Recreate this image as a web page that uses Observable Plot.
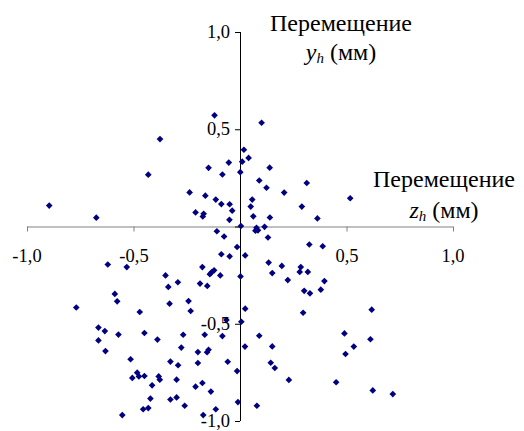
<!DOCTYPE html>
<html>
<head>
<meta charset="utf-8">
<script src="https://cdn.jsdelivr.net/npm/d3@7"></script>
<script src="https://cdn.jsdelivr.net/npm/@observablehq/plot@0.6"></script>
<style>
  html, body { margin: 0; padding: 0; background: #fff; }
  body { position: relative; }
  #chart { width: 524px; height: 431px; }
  #chart svg { display: block; }
  .lbl { position: absolute; color: #000; line-height: 1; white-space: nowrap; font-size: 16px; }
  .ttl { transform-origin: 50% 13.4px; transform: translateX(-50%) scale(1.5); }
  .sub { font-size: 10px; font-style: italic; vertical-align: -2px; }
</style>
</head>
<body>
<div class="lbl tick xl" data-v="-1" style="font-family:'Liberation Serif';left:0;top:0">-1,0</div>
<div class="lbl tick xl" data-v="-0.5" style="font-family:'Liberation Serif';left:0;top:0">-0,5</div>
<div class="lbl tick xl" data-v="0.5" style="font-family:'Liberation Serif';left:0;top:0">0,5</div>
<div class="lbl tick xl" data-v="1" style="font-family:'Liberation Serif';left:0;top:0">1,0</div>
<div class="lbl tick yl" data-v="1" style="font-family:'Liberation Serif';left:0;top:0">1,0</div>
<div class="lbl tick yl" data-v="0.5" style="font-family:'Liberation Serif';left:0;top:0">0,5</div>
<div class="lbl tick yl" data-v="-0.5" style="font-family:'Liberation Serif';left:0;top:0">-0,5</div>
<div class="lbl tick yl" data-v="-1" style="font-family:'Liberation Serif';left:0;top:0">-1,0</div>
<div class="lbl ttl" style="font-family:'Liberation Serif';left:341px;top:18.1px">Перемещение</div>
<div class="lbl ttl" style="font-family:'Liberation Serif';left:341px;top:46.6px"><i>y</i><span class="sub">h</span> (мм)</div>
<div class="lbl ttl" style="font-family:'Liberation Serif';left:443.5px;top:173.6px">Перемещение</div>
<div class="lbl ttl" style="font-family:'Liberation Serif';left:443.5px;top:205.1px"><i>z</i><span class="sub">h</span> (мм)</div>
<div id="chart"></div>
<script>
// Displacement z_h (mm)
const zh = [
  -0.122, 0.099, -0.378, -0.433, 0.016, 0.038, -0.055, 0.008, -0.150, -0.085,
  -0.001, 0.088, 0.137, 0.122, 0.311, 0.205, 0.515, -0.239, -0.165, -0.116,
  -0.090, -0.051, -0.039, 0.055, 0.048, 0.288, -0.898, -0.677, -0.211, -0.173,
  -0.177, 0.060, -0.052, 0.002, 0.138, 0.361, 0.075, 0.082, 0.070, 0.113,
  -0.111, -0.077, -0.016, 0.129, 0.323, 0.386, -0.090, -0.051, 0.022, -0.623,
  -0.534, -0.179, -0.124, -0.136, -0.144, -0.095, 0.000, -0.352, -0.294, -0.339,
  -0.190, -0.156, 0.132, 0.194, 0.283, 0.278, 0.316, 0.149, 0.222, 0.394,
  0.299, 0.326, 0.377, -0.590, -0.579, -0.771, -0.333, -0.244, -0.234, -0.473,
  0.022, 0.294, 0.616, -0.066, 0.004, -0.667, -0.637, -0.573, -0.451, -0.269,
  -0.168, -0.085, 0.088, 0.488, 0.610, -0.667, -0.390, -0.634, -0.278, -0.200,
  -0.150, -0.157, 0.021, 0.149, 0.532, 0.493, -0.516, -0.329, -0.293, -0.200,
  -0.060, 0.142, 0.161, -0.016, 0.227, 0.449, -0.485, -0.508, -0.477, -0.451,
  -0.384, -0.379, -0.300, -0.415, -0.211, -0.179, -0.139, -0.423, -0.329, -0.300,
  -0.262, -0.116, -0.012, 0.077, -0.457, -0.433, -0.555, -0.175, 0.621, 0.715
];
// Displacement y_h (mm)
const yh = [
  0.574, 0.536, 0.452, 0.269, 0.397, 0.355, 0.331, 0.336, 0.304, 0.270,
  0.282, 0.239, 0.305, 0.202, 0.226, 0.177, 0.148, 0.178, 0.161, 0.141,
  0.118, 0.117, 0.084, 0.141, 0.105, 0.105, 0.110, 0.048, 0.075, 0.068,
  0.054, 0.055, 0.037, 0.005, 0.049, 0.044, -0.004, -0.017, -0.019, 0.001,
  -0.022, -0.049, -0.103, -0.054, -0.090, -0.099, -0.140, -0.151, -0.146, -0.193,
  -0.206, -0.206, -0.223, -0.233, -0.243, -0.249, -0.254, -0.249, -0.284, -0.308,
  -0.291, -0.303, -0.183, -0.200, -0.206, -0.231, -0.231, -0.237, -0.273, -0.278,
  -0.328, -0.341, -0.322, -0.344, -0.382, -0.414, -0.394, -0.381, -0.432, -0.437,
  -0.420, -0.441, -0.425, -0.478, -0.487, -0.517, -0.535, -0.553, -0.545, -0.554,
  -0.554, -0.561, -0.559, -0.547, -0.577, -0.583, -0.579, -0.638, -0.620, -0.643,
  -0.631, -0.644, -0.615, -0.614, -0.615, -0.653, -0.680, -0.692, -0.711, -0.699,
  -0.693, -0.698, -0.725, -0.741, -0.786, -0.798, -0.749, -0.776, -0.768, -0.766,
  -0.768, -0.785, -0.785, -0.814, -0.821, -0.802, -0.846, -0.882, -0.887, -0.876,
  -0.919, -0.937, -0.900, -0.919, -0.937, -0.931, -0.967, -0.967, -0.840, -0.859
];
const xTicks = [-1, -0.5, 0, 0.5, 1];
const yTicks = [-1, -0.5, 0, 0.5, 1];
const xLabelTicks = [-1, -0.5, 0.5, 1];
const yLabelTicks = [-1, -0.5, 0.5, 1];
const tickScale = 18.5 / 16;

const points = zh.map((z, i) => ({z, y: yh[i]}));

const chart = Plot.plot({
  width: 524,
  height: 431,
  marginLeft: 27,
  marginRight: 71,
  marginTop: 32,
  marginBottom: 10,
  style: {background: "#fff", overflow: "visible"},
  x: {domain: [-1, 1], axis: null},
  y: {domain: [-1, 1], axis: null},
  marks: [
    // horizontal axis (grey) with downward ticks
    Plot.ruleY([0], {x1: -1, x2: 1, stroke: "#808080", strokeWidth: 1}),
    Plot.ruleX(xTicks, {x: d => d, y1: 0, y2: 0, insetBottom: -5, stroke: "#808080"}),
    // vertical axis (black) with leftward ticks
    Plot.ruleX([0], {y1: -1, y2: 1, stroke: "#000", strokeWidth: 1}),
    Plot.ruleY(yTicks, {y: d => d, x1: 0, x2: 0, insetLeft: -5, stroke: "#000"}),
    // data
    Plot.dot(points, {x: "z", y: "y", symbol: "diamond2", r: 3, fill: "#000080", stroke: "none"})
  ]
});
document.getElementById("chart").appendChild(chart);

// place the tick labels with the chart's own scales
const X = chart.scale("x"), Y = chart.scale("y");
document.querySelectorAll(".xl").forEach(el => {
  const v = +el.dataset.v;
  if (!xLabelTicks.includes(v)) return;
  el.style.left = X.apply(v) + "px";
  el.style.top = (Y.apply(0) + 29) + "px";
  el.style.transformOrigin = "50% 50%";
  el.style.transform = "translate(-50%,-50%) scale(" + tickScale + ")";
});
document.querySelectorAll(".yl").forEach(el => {
  const v = +el.dataset.v;
  if (!yLabelTicks.includes(v)) return;
  el.style.left = (X.apply(0) - 10) + "px";
  el.style.top = Y.apply(v) + "px";
  el.style.transformOrigin = "100% 50%";
  el.style.transform = "translate(-100%,-50%) scale(" + tickScale + ")";
});
</script>
</body>
</html>
